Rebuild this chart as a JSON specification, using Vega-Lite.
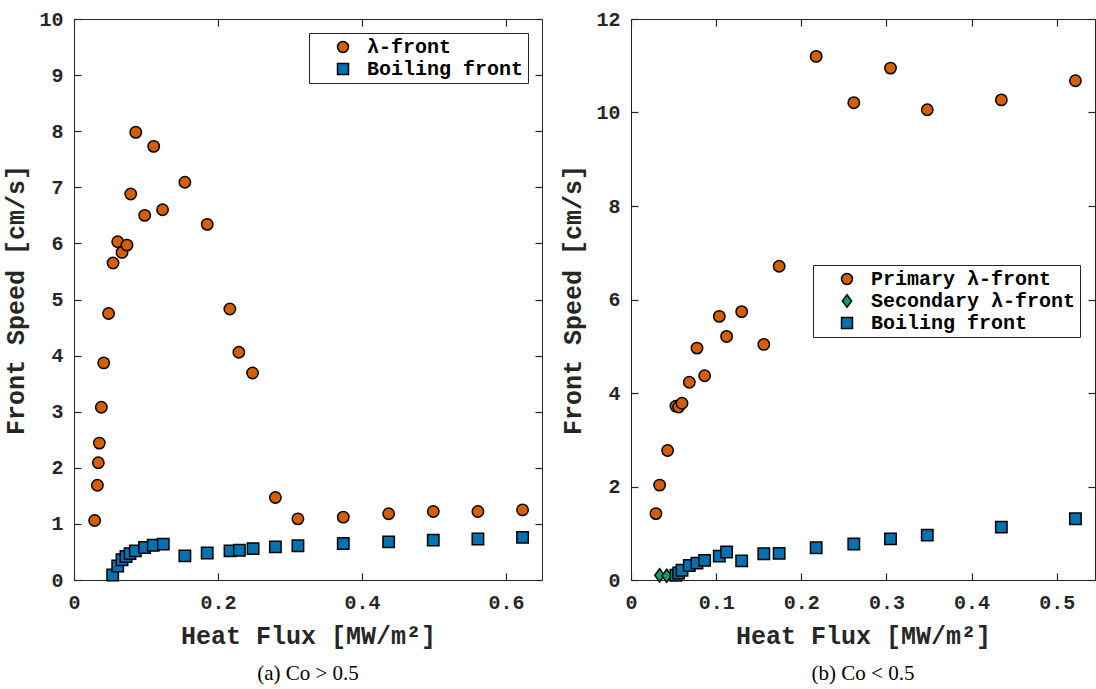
{
  "$schema": "https://vega.github.io/schema/vega-lite/v6.json",
  "background": "white",
  "padding": {"left": 3, "top": 8, "right": 0, "bottom": 0},
  "bounds": "flush",
  "spacing": 89,
  "config": {
    "view": {"stroke": "#262626", "strokeWidth": 1},
    "axis": {
      "labelFont": "Liberation Mono", "labelFontWeight": "bold", "labelFontSize": 20, "labelColor": "#262626",
      "titleFont": "Liberation Mono", "titleFontWeight": "bold", "titleFontSize": 25, "titleColor": "#262626",
      "grid": false, "domain": false, "tickColor": "#262626", "tickSize": 7, "tickWidth": 1.2, "offset": -7, "labelFlush": false
    },
    "axisBottom": {"labelPadding": 12, "titlePadding": 11},
    "axisLeft": {"labelPadding": 11, "titlePadding": 10},
    "legend": {
      "labelFont": "Liberation Mono", "labelFontWeight": "bold", "labelFontSize": 20, "labelColor": "black", "labelLimit": 400,
      "strokeColor": "#262626", "fillColor": "white", "padding": 4, "symbolStrokeWidth": 1.5,
      "symbolSize": 120, "symbolOffset": 20, "rowPadding": 2, "labelOffset": 14, "title": null
    },
    "title": {"font": "Liberation Serif", "fontSize": 21, "fontWeight": "normal", "color": "black"}
  },
  "hconcat": [
    {
      "width": 468, "height": 561,
      "title": {"text": "(a) Co > 0.5", "orient": "bottom", "offset": 15},
      "data": {"values": [
        {"series": "λ-front", "flux": 0.0287, "speed": 1.06},
        {"series": "λ-front", "flux": 0.0325, "speed": 1.69},
        {"series": "λ-front", "flux": 0.0338, "speed": 2.09},
        {"series": "λ-front", "flux": 0.0352, "speed": 2.44},
        {"series": "λ-front", "flux": 0.038, "speed": 3.08},
        {"series": "λ-front", "flux": 0.0413, "speed": 3.87},
        {"series": "λ-front", "flux": 0.048, "speed": 4.75},
        {"series": "λ-front", "flux": 0.0542, "speed": 5.65},
        {"series": "λ-front", "flux": 0.0607, "speed": 6.03},
        {"series": "λ-front", "flux": 0.0667, "speed": 5.84},
        {"series": "λ-front", "flux": 0.0736, "speed": 5.97},
        {"series": "λ-front", "flux": 0.0788, "speed": 6.88},
        {"series": "λ-front", "flux": 0.0858, "speed": 7.98},
        {"series": "λ-front", "flux": 0.0982, "speed": 6.5},
        {"series": "λ-front", "flux": 0.1107, "speed": 7.73},
        {"series": "λ-front", "flux": 0.123, "speed": 6.6},
        {"series": "λ-front", "flux": 0.154, "speed": 7.09},
        {"series": "λ-front", "flux": 0.185, "speed": 6.34},
        {"series": "λ-front", "flux": 0.2165, "speed": 4.83},
        {"series": "λ-front", "flux": 0.229, "speed": 4.06},
        {"series": "λ-front", "flux": 0.248, "speed": 3.69},
        {"series": "λ-front", "flux": 0.2797, "speed": 1.47},
        {"series": "λ-front", "flux": 0.311, "speed": 1.09},
        {"series": "λ-front", "flux": 0.374, "speed": 1.12},
        {"series": "λ-front", "flux": 0.437, "speed": 1.18},
        {"series": "λ-front", "flux": 0.499, "speed": 1.22},
        {"series": "λ-front", "flux": 0.561, "speed": 1.22},
        {"series": "λ-front", "flux": 0.623, "speed": 1.25},
        {"series": "Boiling front", "flux": 0.0537, "speed": 0.09},
        {"series": "Boiling front", "flux": 0.0607, "speed": 0.25},
        {"series": "Boiling front", "flux": 0.0667, "speed": 0.36},
        {"series": "Boiling front", "flux": 0.0722, "speed": 0.42},
        {"series": "Boiling front", "flux": 0.0778, "speed": 0.47},
        {"series": "Boiling front", "flux": 0.0852, "speed": 0.52},
        {"series": "Boiling front", "flux": 0.098, "speed": 0.58},
        {"series": "Boiling front", "flux": 0.11, "speed": 0.62},
        {"series": "Boiling front", "flux": 0.124, "speed": 0.64},
        {"series": "Boiling front", "flux": 0.154, "speed": 0.43},
        {"series": "Boiling front", "flux": 0.185, "speed": 0.48},
        {"series": "Boiling front", "flux": 0.2167, "speed": 0.52},
        {"series": "Boiling front", "flux": 0.2297, "speed": 0.53},
        {"series": "Boiling front", "flux": 0.2487, "speed": 0.56},
        {"series": "Boiling front", "flux": 0.2797, "speed": 0.59},
        {"series": "Boiling front", "flux": 0.311, "speed": 0.61},
        {"series": "Boiling front", "flux": 0.374, "speed": 0.65},
        {"series": "Boiling front", "flux": 0.437, "speed": 0.68},
        {"series": "Boiling front", "flux": 0.499, "speed": 0.71},
        {"series": "Boiling front", "flux": 0.561, "speed": 0.73},
        {"series": "Boiling front", "flux": 0.623, "speed": 0.76}
      ]},
      "layer": [
        {
          "mark": {"type": "point", "opacity": 0},
          "encoding": {
            "x": {"field": "flux", "type": "quantitative", "scale": {"domain": [0, 0.65], "nice": false},
                  "axis": {"orient": "top", "labels": false, "title": null, "values": [0, 0.2, 0.4, 0.6]}},
            "y": {"field": "speed", "type": "quantitative", "scale": {"domain": [0, 10], "nice": false},
                  "axis": {"orient": "right", "labels": false, "title": null, "values": [0, 1, 2, 3, 4, 5, 6, 7, 8, 9, 10]}}
          }
        },
        {
          "mark": {"type": "point", "filled": true, "size": 130, "strokeWidth": 1.5, "opacity": 1},
          "encoding": {
            "x": {"field": "flux", "type": "quantitative", "scale": {"domain": [0, 0.65], "nice": false},
                  "axis": {"orient": "bottom", "title": "Heat Flux [MW/m²]", "values": [0, 0.2, 0.4, 0.6], "format": "~g"}},
            "y": {"field": "speed", "type": "quantitative", "scale": {"domain": [0, 10], "nice": false},
                  "axis": {"orient": "left", "title": "Front Speed [cm/s]", "values": [0, 1, 2, 3, 4, 5, 6, 7, 8, 9, 10]}},
            "fill": {"field": "series", "type": "nominal",
                     "scale": {"domain": ["λ-front", "Boiling front"], "range": ["#D55E00", "#0072B2"]},
                     "legend": {"orient": "top-right", "offset": 14}},
            "stroke": {"field": "series", "type": "nominal",
                     "scale": {"domain": ["λ-front", "Boiling front"], "range": ["black", "black"]},
                     "legend": {"orient": "top-right", "offset": 14}},
            "shape": {"field": "series", "type": "nominal",
                      "scale": {"domain": ["λ-front", "Boiling front"], "range": ["circle", "square"]},
                      "legend": {"orient": "top-right", "offset": 14}}
          }
        }
      ]
    },
    {
      "width": 464, "height": 561,
      "title": {"text": "(b) Co < 0.5", "orient": "bottom", "offset": 15},
      "data": {"values": [
        {"series": "Primary λ-front", "flux": 0.0293, "speed": 1.42},
        {"series": "Primary λ-front", "flux": 0.0336, "speed": 2.03},
        {"series": "Primary λ-front", "flux": 0.043, "speed": 2.77},
        {"series": "Primary λ-front", "flux": 0.0528, "speed": 3.72},
        {"series": "Primary λ-front", "flux": 0.056, "speed": 3.7},
        {"series": "Primary λ-front", "flux": 0.0599, "speed": 3.78},
        {"series": "Primary λ-front", "flux": 0.0685, "speed": 4.23},
        {"series": "Primary λ-front", "flux": 0.0775, "speed": 4.96},
        {"series": "Primary λ-front", "flux": 0.0865, "speed": 4.37},
        {"series": "Primary λ-front", "flux": 0.1037, "speed": 5.64},
        {"series": "Primary λ-front", "flux": 0.1123, "speed": 5.21},
        {"series": "Primary λ-front", "flux": 0.13, "speed": 5.74},
        {"series": "Primary λ-front", "flux": 0.156, "speed": 5.04},
        {"series": "Primary λ-front", "flux": 0.174, "speed": 6.71},
        {"series": "Primary λ-front", "flux": 0.2175, "speed": 11.2},
        {"series": "Primary λ-front", "flux": 0.2617, "speed": 10.21},
        {"series": "Primary λ-front", "flux": 0.3048, "speed": 10.95},
        {"series": "Primary λ-front", "flux": 0.348, "speed": 10.06},
        {"series": "Primary λ-front", "flux": 0.435, "speed": 10.27},
        {"series": "Primary λ-front", "flux": 0.522, "speed": 10.68},
        {"series": "Secondary λ-front", "flux": 0.0336, "speed": 0.1},
        {"series": "Secondary λ-front", "flux": 0.042, "speed": 0.09},
        {"series": "Boiling front", "flux": 0.0528, "speed": 0.1},
        {"series": "Boiling front", "flux": 0.056, "speed": 0.15},
        {"series": "Boiling front", "flux": 0.0599, "speed": 0.21},
        {"series": "Boiling front", "flux": 0.0685, "speed": 0.31},
        {"series": "Boiling front", "flux": 0.0775, "speed": 0.36},
        {"series": "Boiling front", "flux": 0.0865, "speed": 0.42},
        {"series": "Boiling front", "flux": 0.1037, "speed": 0.51},
        {"series": "Boiling front", "flux": 0.1123, "speed": 0.6},
        {"series": "Boiling front", "flux": 0.13, "speed": 0.41},
        {"series": "Boiling front", "flux": 0.156, "speed": 0.56},
        {"series": "Boiling front", "flux": 0.174, "speed": 0.57},
        {"series": "Boiling front", "flux": 0.2175, "speed": 0.69},
        {"series": "Boiling front", "flux": 0.2617, "speed": 0.77},
        {"series": "Boiling front", "flux": 0.3048, "speed": 0.88},
        {"series": "Boiling front", "flux": 0.348, "speed": 0.96},
        {"series": "Boiling front", "flux": 0.435, "speed": 1.13},
        {"series": "Boiling front", "flux": 0.522, "speed": 1.31}
      ]},
      "layer": [
        {
          "mark": {"type": "point", "opacity": 0},
          "encoding": {
            "x": {"field": "flux", "type": "quantitative", "scale": {"domain": [0, 0.545], "nice": false},
                  "axis": {"orient": "top", "labels": false, "title": null, "values": [0, 0.1, 0.2, 0.3, 0.4, 0.5]}},
            "y": {"field": "speed", "type": "quantitative", "scale": {"domain": [0, 12], "nice": false},
                  "axis": {"orient": "right", "labels": false, "title": null, "values": [0, 2, 4, 6, 8, 10, 12]}}
          }
        },
        {
          "mark": {"type": "point", "filled": true, "size": 130, "strokeWidth": 1.5, "opacity": 1},
          "encoding": {
            "x": {"field": "flux", "type": "quantitative", "scale": {"domain": [0, 0.545], "nice": false},
                  "axis": {"orient": "bottom", "title": "Heat Flux [MW/m²]", "values": [0, 0.1, 0.2, 0.3, 0.4, 0.5], "format": "~g"}},
            "y": {"field": "speed", "type": "quantitative", "scale": {"domain": [0, 12], "nice": false},
                  "axis": {"orient": "left", "title": "Front Speed [cm/s]", "values": [0, 2, 4, 6, 8, 10, 12]}},
            "fill": {"field": "series", "type": "nominal",
                     "scale": {"domain": ["Primary λ-front", "Secondary λ-front", "Boiling front"], "range": ["#D55E00", "#009E73", "#0072B2"]},
                     "legend": {"orient": "none", "legendX": 182, "legendY": 246}},
            "stroke": {"field": "series", "type": "nominal",
                     "scale": {"domain": ["Primary λ-front", "Secondary λ-front", "Boiling front"], "range": ["black", "black", "black"]},
                     "legend": {"orient": "none", "legendX": 182, "legendY": 246}},
            "shape": {"field": "series", "type": "nominal",
                      "scale": {"domain": ["Primary λ-front", "Secondary λ-front", "Boiling front"], "range": ["circle", "M0,-1.15L0.85,0L0,1.15L-0.85,0Z", "square"]},
                      "legend": {"orient": "none", "legendX": 182, "legendY": 246}}
          }
        }
      ]
    }
  ],
  "resolve": {"scale": {"fill": "independent", "shape": "independent", "stroke": "independent", "x": "independent", "y": "independent"}, "legend": {"fill": "independent", "shape": "independent", "stroke": "independent"}}
}
